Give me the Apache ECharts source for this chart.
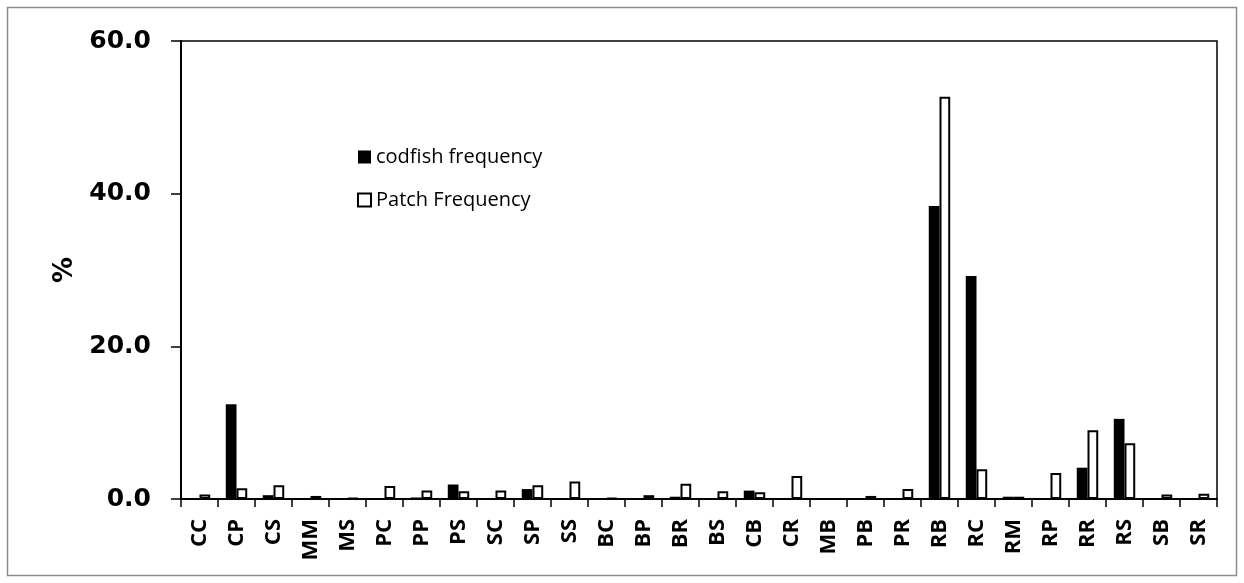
<!DOCTYPE html>
<html>
<head>
<meta charset="utf-8">
<script src="https://cdn.jsdelivr.net/npm/echarts@6/dist/echarts.min.js"></script>
<style>
html,body{margin:0;padding:0;background:#fff;}
#main{width:1244px;height:583px;}
</style>
</head>
<body>
<div id="main"></div>
<script>
// categories on x axis
var categories = ['CC','CP','CS','MM','MS','PC','PP','PS','SC','SP','SS','BC','BP','BR','BS','CB','CR','MB','PB','PR','RB','RC','RM','RP','RR','RS','SB','SR'];

// codfish frequency (%)
var codfish = [0, 12.4, 0.5, 0, 0.1, 0, 0.2, 1.9, 0, 1.3, 0.1, 0, 0, 0.3, 0, 1.1, 0.1, 0.1, 0, 0, 38.4, 29.2, 0.3, 0, 4.1, 10.5, 0, 0];

// patch frequency (%)
var patch = [0.6, 1.4, 1.8, 0.4, 0.1, 1.7, 1.1, 1.0, 1.1, 1.8, 2.3, 0.1, 0.5, 2.0, 1.0, 0.9, 3.0, 0, 0.4, 1.3, 52.7, 3.9, 0.3, 3.4, 9.0, 7.3, 0.6, 0.7];

var yTicks = [0, 20, 40, 60];

var myChart = echarts.init(document.getElementById('main'));

var option = {
    animation: false,
    backgroundColor: '#fff',
    textStyle: {fontFamily: 'Open Sans'},
    graphic: [{
        type: 'rect',
        shape: {x: 7.5, y: 7.5, width: 1229, height: 568},
        style: {fill: 'none', stroke: '#8c8c8c', lineWidth: 1.5}
    }],
    grid: {
        left: 181,
        right: 27,
        top: 41,
        bottom: 84,
        show: true,
        borderColor: '#000',
        borderWidth: 1.5,
        backgroundColor: 'transparent'
    },
    legend: {
        orient: 'vertical',
        left: 352,
        top: 142,
        itemGap: 23,
        itemWidth: 13,
        itemHeight: 13,
        icon: 'rect',
        textStyle: {fontFamily: 'Open Sans', fontSize: 20, color: '#000'},
        data: ['codfish frequency', 'Patch Frequency']
    },
    xAxis: [{
        type: 'category',
        data: categories,
        axisLine: {lineStyle: {color: '#000', width: 2}},
        axisTick: {show: true, length: 8, inside: false, lineStyle: {color: '#000', width: 1.5}},
        axisLabel: {
            rotate: 90,
            fontFamily: 'Open Sans',
            fontWeight: 'bold',
            fontSize: 22,
            color: '#000',
            margin: 20
        }
    }],
    yAxis: [{
        type: 'value',
        min: yTicks[0],
        max: yTicks[yTicks.length - 1],
        interval: 20,
        name: '%',
        nameLocation: 'middle',
        nameGap: 97,
        nameTextStyle: {fontFamily: 'DejaVu Sans', fontWeight: 'bold', fontSize: 26, color: '#000'},
        splitLine: {show: false},
        axisLine: {show: true, lineStyle: {color: '#000', width: 2}},
        axisTick: {show: true, length: 10, lineStyle: {color: '#000', width: 1.5}},
        axisLabel: {
            fontFamily: 'DejaVu Sans',
            fontWeight: 'bold',
            fontSize: 25,
            color: '#000',
            margin: 30,
            formatter: function (v) { return v.toFixed(1); }
        }
    }],
    series: [{
        name: 'codfish frequency',
        type: 'bar',
        data: codfish,
        barGap: '0%',
        barCategoryGap: '42%',
        itemStyle: {color: '#000', borderWidth: 0}
    }, {
        name: 'Patch Frequency',
        type: 'bar',
        data: patch,
        itemStyle: {color: '#fff', borderColor: '#000', borderWidth: 2}
    }]
};

myChart.setOption(option);
</script>
</body>
</html>
